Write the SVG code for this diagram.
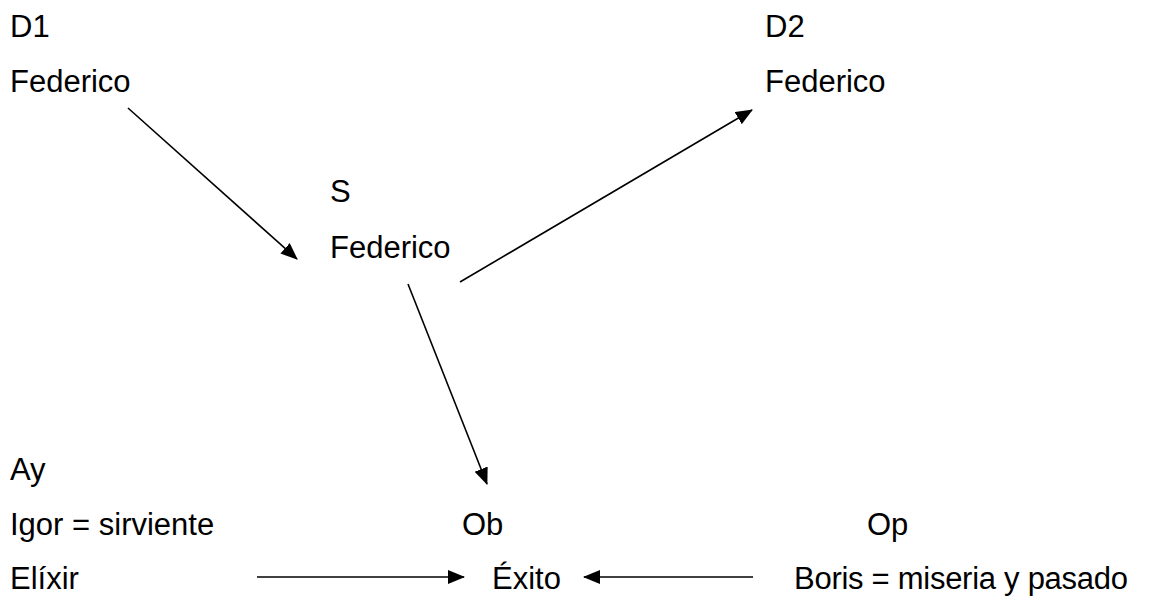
<svg xmlns="http://www.w3.org/2000/svg" width="1149" height="597" viewBox="0 0 1149 597">
<defs>
<style>
text{font-family:"Liberation Sans",Arial,sans-serif;font-size:31px;fill:#000}
.c line{stroke:#000;stroke-width:1.6;marker-end:url(#ah)}
</style>
<marker id="ah" markerUnits="userSpaceOnUse" markerWidth="18" markerHeight="16" refX="16" refY="7" orient="auto"><path d="M0,0 L17,7 L0,14 z" fill="#000"/></marker>
</defs>
<rect width="1149" height="597" fill="#fff"/>
<g id="d1"><text x="10" y="37">D1</text><text x="10" y="92">Federico</text></g>
<g id="d2"><text x="765" y="37">D2</text><text x="765" y="92">Federico</text></g>
<g id="s"><text x="330" y="202">S</text><text x="330" y="258">Federico</text></g>
<g id="ay"><text x="10" y="480">Ay</text><text x="10" y="535">Igor = sirviente</text><text x="10" y="589">Elíxir</text></g>
<g id="ob"><text x="462" y="535">Ob</text><text x="492" y="589">Éxito</text></g>
<g id="op"><text x="867" y="535">Op</text><text x="794" y="589" textLength="334" lengthAdjust="spacing">Boris = miseria y pasado</text></g>
<g class="c" id="connectors">
<line x1="128" y1="108" x2="297" y2="259"/>
<line x1="460" y1="282" x2="752" y2="110"/>
<line x1="408" y1="284" x2="487" y2="484"/>
<line x1="257" y1="577" x2="464" y2="577"/>
<line x1="753" y1="577" x2="584" y2="577"/>
</g>
</svg>
